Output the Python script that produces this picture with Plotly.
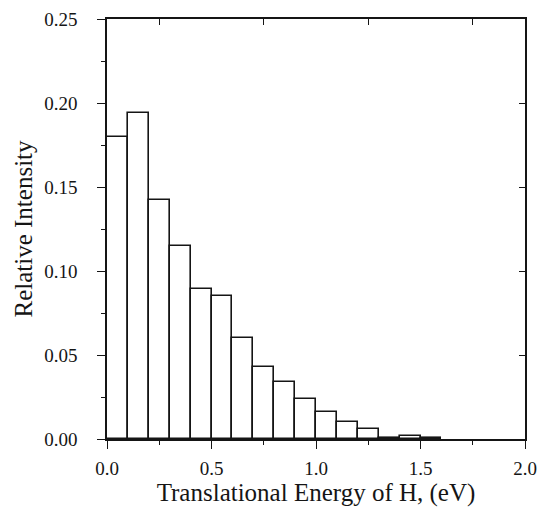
import plotly.graph_objects as go

bin_centers = [0.05, 0.15, 0.25, 0.35, 0.45, 0.55, 0.65, 0.75, 0.85, 0.95,
               1.05, 1.15, 1.25, 1.35, 1.45, 1.55]
intensity = [0.180, 0.194, 0.142, 0.115, 0.089, 0.085, 0.060, 0.043, 0.034, 0.024,
             0.016, 0.010, 0.006, 0.0005, 0.002, 0.0008]
x_ticks = [0.0, 0.5, 1.0, 1.5, 2.0]
x_tick_labels = ["0.0", "0.5", "1.0", "1.5", "2.0"]
y_ticks = [0.0, 0.05, 0.10, 0.15, 0.20, 0.25]
y_tick_labels = ["0.00", "0.05", "0.10", "0.15", "0.20", "0.25"]

font = "Liberation Serif, Times New Roman, serif"
ink = "#151515"

fig = go.Figure()
fig.add_trace(go.Bar(
    x=bin_centers, y=intensity, width=0.1,
    marker=dict(color="rgba(255,255,255,0)", line=dict(color=ink, width=1.6)),
    showlegend=False, hoverinfo="skip",
))
# invisible trace to activate the mirrored (top/right) axes with inside ticks
fig.add_trace(go.Scatter(x=bin_centers, y=intensity, xaxis="x2", yaxis="y2",
                         mode="markers", marker=dict(opacity=0), showlegend=False,
                         hoverinfo="skip"))

fig.update_layout(
    width=542, height=524,
    margin=dict(l=107, r=17, t=19, b=85, autoexpand=False),
    plot_bgcolor="white", paper_bgcolor="white",
    bargap=0,
    xaxis=dict(range=[0, 2.0], tickvals=x_ticks, ticktext=x_tick_labels, automargin=False,
               showline=True, linecolor=ink, linewidth=1.6, showgrid=False, zeroline=False,
               ticks="outside", ticklen=8, tickwidth=1.3, tickcolor=ink,
               tickfont=dict(family=font, size=19, color=ink), ticklabelstandoff=3,
               minor=dict(ticks="outside", ticklen=4, dtick=0.25, tickcolor=ink),
               title=dict(text="Translational Energy of H, (eV)",
                          font=dict(family=font, size=25, color=ink), standoff=4)),
    yaxis=dict(range=[0, 0.25], tickvals=y_ticks, ticktext=y_tick_labels, automargin=False,
               showline=True, linecolor=ink, linewidth=1.6, showgrid=False, zeroline=False,
               ticks="outside", ticklen=8, tickwidth=1.3, tickcolor=ink,
               tickfont=dict(family=font, size=19, color=ink), ticklabelstandoff=16,
               minor=dict(ticks="outside", ticklen=4, dtick=0.025, tickcolor=ink),
               title=dict(text="Relative Intensity",
                          font=dict(family=font, size=25, color=ink), standoff=4)),
    xaxis2=dict(overlaying="x", side="top", range=[0, 2.0], showline=True, automargin=False,
                linecolor=ink, linewidth=1.6, showgrid=False, zeroline=False,
                showticklabels=False, ticks="inside", ticklen=6, tickwidth=1.3,
                tickcolor=ink, tickvals=[0.25, 0.75, 1.25, 1.75]),
    yaxis2=dict(overlaying="y", side="right", range=[0, 0.25], showline=True, automargin=False,
                linecolor=ink, linewidth=1.6, showgrid=False, zeroline=False,
                showticklabels=False, ticks="inside", ticklen=6, tickwidth=1.3,
                tickcolor=ink, tickvals=[0.05, 0.10, 0.15, 0.20]),
)

fig.write_html("out.html", config={"displayModeBar": False},
               post_script="document.body.style.margin='0';document.body.style.overflow='hidden';")
